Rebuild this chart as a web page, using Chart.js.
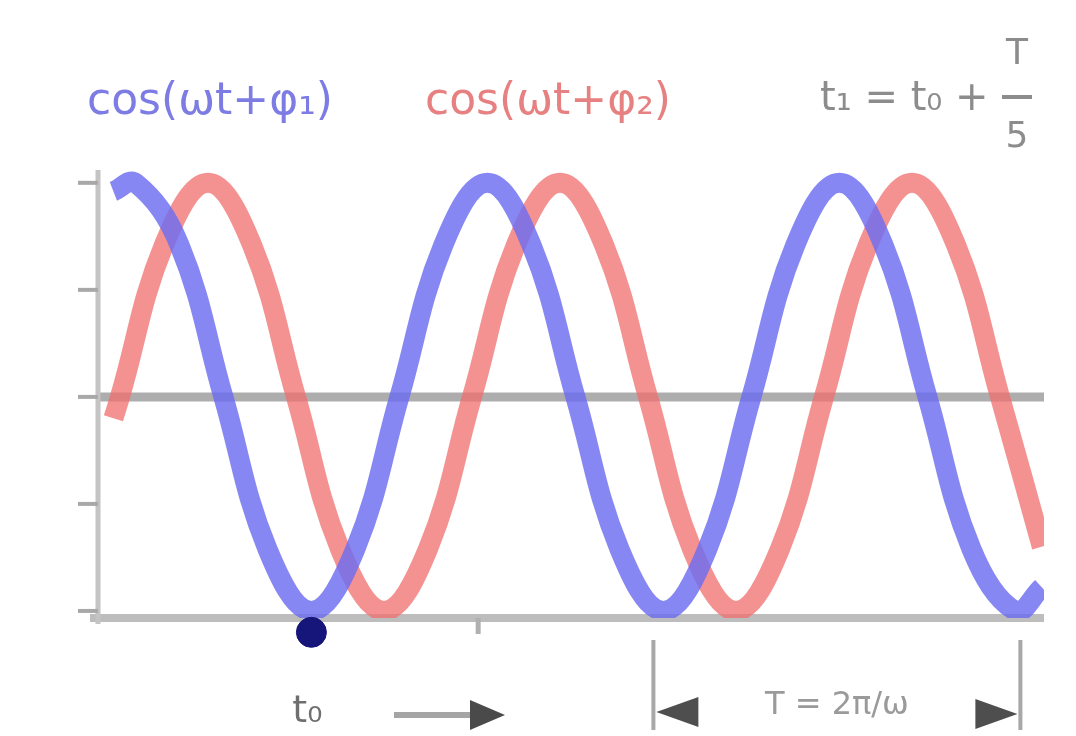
<!DOCTYPE html>
<html>
<head>
<meta charset="utf-8">
<script src="https://cdn.jsdelivr.net/npm/chart.js@4.4.1/dist/chart.umd.min.js"></script>
<style>
  html, body { margin: 0; padding: 0; background: #ffffff; }
  #wrap { width: 1076px; height: 736px; }
</style>
</head>
<body>
<div id="wrap"><canvas id="c" width="1076" height="736"></canvas></div>
<script>
// Time samples (arbitrary units, one period = 8) and the two waves' values
const blueT = [0.35, 0.85, 1.85, 2.85, 3.85, 4.85, 5.85, 6.85, 7.85, 8.85, 9.85, 10.85, 11.85, 12.85, 13.85, 14.85, 15.85, 16.85, 17.85, 18.85, 19.85, 20.85, 21.45];
const blueV = [0.96, 1, 0.71, 0, -0.71, -1, -0.71, 0, 0.71, 1, 0.71, 0, -0.71, -1, -0.71, 0, 0.71, 1, 0.71, 0, -0.71, -1, -0.89];
const redT  = [0.35, 0.5, 1.5, 2.5, 3.5, 4.5, 5.5, 6.5, 7.5, 8.5, 9.5, 10.5, 11.5, 12.5, 13.5, 14.5, 15.5, 16.5, 17.5, 18.5, 19.5, 20.5, 21.45];
const redV  = [-0.1, 0, 0.71, 1, 0.71, 0, -0.71, -1, -0.71, 0, 0.71, 1, 0.71, 0, -0.71, -1, -0.71, 0, 0.71, 1, 0.71, 0, -0.7];

// Marked instant t0 (a minimum of the blue wave) and the period bracket
const t0Mark = [4.85];
const t0MarkValue = [-1.1];
const periodStart = 12.85;
const periodEnd = 20.85;
const yTicks = [1, 0.5, 0, -0.5, -1];

const labelBlue = 'cos(ωt+φ₁)';
const labelRed = 'cos(ωt+φ₂)';
const relation = 't₁ = t₀ +';
const fracTop = 'T';
const fracBottom = '5';
const t0Label = 't₀';
const periodLabel = 'T = 2π/ω';

const blueColor = 'rgba(108, 108, 240, 0.82)';
const redColor = 'rgba(240, 112, 112, 0.76)';

const pts = (xs, ys) => xs.map((x, i) => ({ x, y: ys[i] }));

const axesPlugin = {
  id: 'axesPlugin',
  beforeDatasetsDraw(chart) {
    const { ctx, chartArea: a, scales: { x, y } } = chart;
    ctx.save();
    ctx.lineCap = 'butt';
    // zero line
    ctx.strokeStyle = '#adadad';
    ctx.lineWidth = 9;
    ctx.beginPath();
    ctx.moveTo(a.left, y.getPixelForValue(0));
    ctx.lineTo(a.right, y.getPixelForValue(0));
    ctx.stroke();
    // bottom axis
    ctx.strokeStyle = '#bdbdbd';
    ctx.lineWidth = 8;
    ctx.beginPath();
    ctx.moveTo(a.left - 8, a.bottom);
    ctx.lineTo(a.right, a.bottom);
    ctx.stroke();
    // left axis
    ctx.strokeStyle = '#c4c4c4';
    ctx.lineWidth = 5;
    ctx.beginPath();
    ctx.moveTo(a.left, a.top);
    ctx.lineTo(a.left, a.bottom + 6);
    ctx.stroke();
    // y tick marks
    ctx.strokeStyle = '#a8a8a8';
    ctx.lineWidth = 4;
    yTicks.forEach(v => {
      const py = y.getPixelForValue(v);
      ctx.beginPath();
      ctx.moveTo(a.left - 20, py);
      ctx.lineTo(a.left, py);
      ctx.stroke();
    });
    // small tick on time axis
    ctx.strokeStyle = '#b0b0b0';
    ctx.lineWidth = 5;
    const tx = x.getPixelForValue(8.64);
    ctx.beginPath();
    ctx.moveTo(tx, a.bottom);
    ctx.lineTo(tx, a.bottom + 16);
    ctx.stroke();
    ctx.restore();
  },
  afterDraw(chart) {
    const { ctx, chartArea: a, scales: { x } } = chart;
    ctx.save();
    ctx.textBaseline = 'middle';
    ctx.textAlign = 'center';
    // series labels
    ctx.font = '44px "DejaVu Sans"';
    ctx.fillStyle = 'rgba(110, 110, 225, 0.9)';
    ctx.fillText(labelBlue, 210, 103);
    ctx.fillStyle = 'rgba(228, 115, 115, 0.9)';
    ctx.fillText(labelRed, 548, 103);
    // time relation with fraction
    ctx.fillStyle = '#8c8c8c';
    ctx.textAlign = 'left';
    ctx.font = '40px "DejaVu Sans"';
    ctx.fillText(relation, 820, 100);
    ctx.textAlign = 'center';
    ctx.font = '36px "DejaVu Sans"';
    ctx.fillText(fracTop, 1017, 55);
    ctx.fillText(fracBottom, 1017, 138);
    ctx.strokeStyle = '#8c8c8c';
    ctx.lineWidth = 4;
    ctx.beginPath();
    ctx.moveTo(1002, 97);
    ctx.lineTo(1032, 97);
    ctx.stroke();

    // t0 label and time arrow
    ctx.fillStyle = '#6f6f6f';
    ctx.font = '38px "DejaVu Sans"';
    ctx.fillText(t0Label, x.getPixelForValue(t0Mark[0]) - 4, 712);
    ctx.strokeStyle = '#a5a5a5';
    ctx.lineWidth = 6;
    ctx.beginPath();
    ctx.moveTo(394, 715);
    ctx.lineTo(476, 715);
    ctx.stroke();
    ctx.fillStyle = '#4a4a4a';
    ctx.beginPath();
    ctx.moveTo(505, 715);
    ctx.lineTo(470, 700);
    ctx.lineTo(470, 730);
    ctx.closePath();
    ctx.fill();

    // period bracket
    const x1 = x.getPixelForValue(periodStart) - 10;
    const x2 = x.getPixelForValue(periodEnd) + 5;
    ctx.strokeStyle = '#a8a8a8';
    ctx.lineWidth = 4;
    ctx.beginPath();
    ctx.moveTo(x1, a.bottom + 22); ctx.lineTo(x1, 730);
    ctx.moveTo(x2, a.bottom + 22); ctx.lineTo(x2, 730);
    ctx.stroke();
    ctx.fillStyle = '#4e4e4e';
    ctx.beginPath();
    ctx.moveTo(x1 + 3, 712); ctx.lineTo(x1 + 45, 697); ctx.lineTo(x1 + 45, 727); ctx.closePath();
    ctx.fill();
    ctx.beginPath();
    ctx.moveTo(x2 - 3, 714); ctx.lineTo(x2 - 45, 699); ctx.lineTo(x2 - 45, 729); ctx.closePath();
    ctx.fill();
    ctx.fillStyle = '#9a9a9a';
    ctx.font = '32px "DejaVu Sans"';
    ctx.fillText(periodLabel, (x1 + x2) / 2, 706);
    ctx.restore();
  }
};

new Chart(document.getElementById('c'), {
  type: 'line',
  data: {
    datasets: [
      {
        label: labelRed,
        data: pts(redT, redV),
        borderColor: redColor,
        borderWidth: 20,
        pointRadius: 0,
        tension: 0.4,
        fill: false,
        order: 3
      },
      {
        label: labelBlue,
        data: pts(blueT, blueV),
        borderColor: blueColor,
        borderWidth: 20,
        pointRadius: 0,
        tension: 0.4,
        fill: false,
        order: 2
      },
      {
        type: 'scatter',
        label: t0Label,
        data: pts(t0Mark, t0MarkValue),
        backgroundColor: '#15157a',
        borderColor: '#15157a',
        pointRadius: 15,
        clip: false,
        order: 1
      }
    ]
  },
  options: {
    responsive: false,
    animation: false,
    layout: { padding: { left: 98, right: 32, top: 170, bottom: 118 } },
    plugins: { legend: { display: false }, tooltip: { enabled: false } },
    scales: {
      x: { type: 'linear', min: 0, max: 21.5, display: false },
      y: { type: 'linear', min: -1.033, max: 1.06, display: false }
    },
    elements: { line: { borderCapStyle: 'butt', borderJoinStyle: 'round' } }
  },
  plugins: [axesPlugin]
});
</script>
</body>
</html>
